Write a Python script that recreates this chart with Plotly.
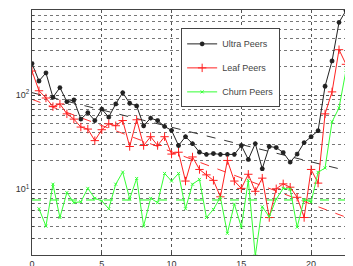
import plotly.graph_objects as go

x = [i * 0.5 for i in range(46)]

ultra = [216, 141, 172, 94.6, 120, 85, 88.6, 55.5, 65, 53.6,
         70.7, 58.3, 80.4, 106, 81.8, 76.6, 47.2, 56.8, 53.6, 46.4,
         42.1, 29.1, 36.1, 30.5, 24.7, 23.4, 23.9, 23.4, 23.4, 23.4,
         29.1, 20.7, 30.5, 16.5, 28.4, 27.7, 24.5, 19.4, 23.6, 31.2,
         36.1, 41.8, 124, 230, 591, 790]

leaf = [180, 111, 93, 75.3, 80.4, 63.1, 55.5, 45.7, 43.5, 32.8,
        42.8, 49.5, 47.2, 53.6, 28.4, 54.6, 29.1, 36.1, 29.1, 36.1,
        23.6, 24.7, 12.2, 22, 16.2, 14.2, 12.4, 8.3, 20.2, 12.2,
        10.2, 14.4, 9.5, 13.1, 5.0, 10.1, 11.4, 10.5, 8.2, 5.0,
        16.2, 11.6, 63.1, 108, 303, 212]

churn = [None, 6.2, 4.05, 11.3, 5.0, 9.2, 7.2, 7.35, 10.2, 8.0,
         7.5, 6.2, 11.3, 15.2, 7.9, 13.0, 4.05, 8.0, 7.2, 14.7,
         12.2, 14.7, 6.2, 11.3, 12.7, 5.0, 6.1, 8.2, 3.4, 6.95,
         3.95, 12.4, 1.95, 6.5, 5.1, 7.85, 10.2, 10.0, 3.95, 7.75,
         7.3, 15.1, 16.8, 52, 73, 183]

fit_x = [0, 22.5]
ultra_fit = [106, 15.8]
leaf_fit = [90, 5.04]
churn_fit = [7.7, 7.7]

y_major = [10, 100]
y_major_text = ["10<sup>1</sup>", "10<sup>2</sup>"]
y_minor = [2, 3, 4, 5, 6, 7, 8, 9, 20, 30, 40, 50, 60, 70, 80, 90,
           200, 300, 400, 500, 600, 700, 800]
x_ticks = [0, 5, 10, 15, 20]

font = "Liberation Sans, Arial, sans-serif"

fig = go.Figure()

fig.add_trace(go.Scatter(x=fit_x, y=ultra_fit, mode="lines",
                         line=dict(color="#333333", width=1, dash="dash"),
                         showlegend=False, hoverinfo="skip"))
fig.add_trace(go.Scatter(x=fit_x, y=leaf_fit, mode="lines",
                         line=dict(color="#ff3030", width=1, dash="dash"),
                         showlegend=False, hoverinfo="skip"))
fig.add_trace(go.Scatter(x=fit_x, y=churn_fit, mode="lines",
                         line=dict(color="#8aff8a", width=2, dash="dash"),
                         showlegend=False, hoverinfo="skip"))

fig.add_trace(go.Scatter(x=x, y=ultra, mode="lines+markers", name="Ultra Peers",
                         line=dict(color="#222222", width=1),
                         marker=dict(symbol="asterisk-open", size=4,
                                     line=dict(color="#111111", width=1.4)),
                         legendgroup="a"))
fig.add_trace(go.Scatter(x=x, y=leaf, mode="lines+markers", name="Leaf Peers",
                         line=dict(color="#ff2020", width=1),
                         marker=dict(symbol="cross-thin-open", size=6,
                                     line=dict(color="#ff2020", width=1)),
                         legendgroup="b"))
fig.add_trace(go.Scatter(x=x, y=churn, mode="lines+markers", name="Churn Peers",
                         line=dict(color="#33ff33", width=1),
                         marker=dict(symbol="x-thin-open", size=3,
                                     line=dict(color="#33ff33", width=1)),
                         legendgroup="c"))

# page body has an 8px default margin, so the figure is 8px smaller
fig.update_layout(
    width=345, height=258,
    margin=dict(l=24, r=7, t=2, b=11, autoexpand=False),
    paper_bgcolor="white", plot_bgcolor="white",
    font=dict(family=font, size=9, color="#333333"),
    legend=dict(x=0.475, y=0.925, xanchor="left", yanchor="top",
                bgcolor="white", bordercolor="#444444", borderwidth=1,
                font=dict(family=font, size=9, color="#444444"),
                traceorder="grouped", tracegroupgap=5, itemwidth=30),
    showlegend=True,
)

fig.update_xaxes(range=[0, 22.5], tickvals=x_ticks, showgrid=True, automargin=False,
                 gridcolor="#555555", griddash="dot", gridwidth=1,
                 showline=True, linecolor="#444444", linewidth=1, mirror=True,
                 ticks="inside", ticklen=3, tickcolor="#444444", zeroline=False,
                 tickfont=dict(size=9, color="#333333"))
fig.update_yaxes(type="log", range=[0.30103, 2.90309], tickvals=y_major,
                 ticktext=y_major_text, showgrid=True, automargin=False,
                 gridcolor="#555555", griddash="dot", gridwidth=1,
                 showline=True, linecolor="#444444", linewidth=1, mirror=True,
                 ticks="inside", ticklen=3, tickcolor="#444444", zeroline=False,
                 tickfont=dict(size=9, color="#333333"),
                 minor=dict(tickvals=y_minor, showgrid=True, gridcolor="#777777",
                            griddash="dot", gridwidth=1, ticks="inside", ticklen=2,
                            tickcolor="#444444"))

fig.write_html("out.html")
